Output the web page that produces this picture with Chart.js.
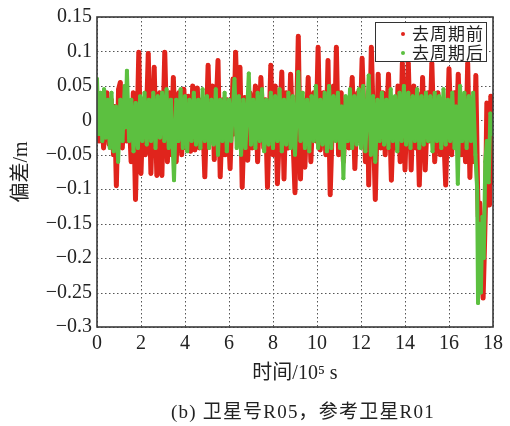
<!DOCTYPE html>
<html>
<head>
<meta charset="utf-8">
<script src="https://cdn.jsdelivr.net/npm/chart.js@4/dist/chart.umd.min.js"></script>
<style>
  html, body { margin: 0; padding: 0; background: #fff; }
  #wrap { position: relative; width: 510px; height: 426px; overflow: hidden; }
  #legend { position: absolute; left: 375px; top: 22px; width: 112px; height: 40px; box-sizing: border-box;
            border: 1.5px solid #333; background: #fff; font-family: 'Noto Sans CJK SC', sans-serif; font-size: 17px; color: #222; }
  .li { position: absolute; left: 0; height: 19px; line-height: 19px; white-space: nowrap; }
  .dot { position: absolute; left: 25px; top: 8px; width: 4px; height: 4px; border-radius: 50%; }
  .lt { position: absolute; left: 36px; top: -1px; letter-spacing: 1px; }
  #caption { position: absolute; left: 171px; top: 396px; font-family: 'Liberation Serif', 'Noto Sans CJK SC', serif;
             font-size: 19px; color: #222; white-space: nowrap; letter-spacing: 1.2px; }
</style>
</head>
<body>
<div id="wrap">
  <canvas id="c" width="510" height="426"></canvas>
  <div id="legend">
    <div class="li" style="top:1px;"><span class="dot" style="background:#e0241c"></span><span class="lt">去周期前</span></div>
    <div class="li" style="top:20px;"><span class="dot" style="background:#5cc040"></span><span class="lt">去周期后</span></div>
  </div>
  <div id="caption">(b) 卫星号R05，参考卫星R01</div>
</div>
<script>
// ---- data (x in 10^5 s, deviation in m) ----
const seriesNames = ['去周期前', '去周期后'];
const xTicks = [0, 2, 4, 6, 8, 10, 12, 14, 16, 18];
const xTickLabels = ['0', '2', '4', '6', '8', '10', '12', '14', '16', '18'];
const yTicks = [-0.3, -0.25, -0.2, -0.15, -0.1, -0.05, 0, 0.05, 0.1, 0.15];
const yTickLabels = ['\u22120.3', '\u22120.25', '\u22120.2', '\u22120.15', '\u22120.1', '\u22120.05', '0', '0.05', '0.1', '0.15'];

const redX = [0.0,0.1,0.2,0.3,0.45,0.55,0.65,0.75,0.8,0.88,0.98,1.06,1.15,1.25,1.35,1.45,1.55,1.65,1.75,1.9,2.0,2.1,2.2,2.33,2.45,2.6,2.72,2.85,2.95,3.08,3.2,3.3,3.38,3.47,3.6,3.72,3.85,3.95,4.05,4.15,4.25,4.35,4.45,4.56,4.66,4.78,4.9,5.05,5.15,5.25,5.33,5.5,5.6,5.72,5.82,5.92,6.05,6.18,6.22,6.3,6.42,6.5,6.6,6.72,6.85,6.95,7.05,7.2,7.3,7.45,7.58,7.65,7.75,7.9,8.0,8.1,8.2,8.4,8.5,8.6,8.7,8.8,9.0,9.15,9.25,9.35,9.45,9.6,9.72,9.85,9.95,10.05,10.15,10.3,10.4,10.5,10.6,10.75,10.8,10.88,10.98,11.1,11.2,11.35,11.45,11.6,11.72,11.85,11.95,12.05,12.2,12.3,12.35,12.47,12.65,12.78,12.9,13.0,13.1,13.25,13.38,13.5,13.58,13.68,13.78,13.88,14.0,14.15,14.28,14.4,14.5,14.55,14.65,14.8,14.92,15.05,15.12,15.22,15.35,15.5,15.6,15.7,15.85,16.0,16.12,16.25,16.32,16.42,16.55,16.65,16.75,16.85,16.95,17.05,17.15,17.22,17.3,17.33,17.4,17.48,17.55,17.6,17.66,17.72,17.78,17.84,17.9,17.96];
const redY = [0.03,-0.03,0.02,-0.04,0.04,-0.035,0.03,-0.05,0.02,-0.095,0.045,0.055,-0.04,0.03,-0.03,0.02,-0.06,0.04,-0.115,0.099,-0.077,0.03,-0.05,0.097,-0.077,0.077,-0.08,0.04,-0.08,0.099,-0.06,0.04,-0.05,0.062,-0.06,0.04,-0.05,0.045,-0.04,0.035,-0.045,0.05,-0.043,0.047,-0.04,0.03,-0.082,0.08,-0.03,0.05,-0.057,0.087,-0.082,0.03,-0.05,0.03,-0.07,0.06,-0.02,0.099,-0.03,0.077,-0.097,0.033,-0.058,0.04,-0.04,0.05,-0.06,0.062,-0.04,0.03,-0.097,0.08,-0.05,0.05,-0.092,0.07,-0.085,0.04,-0.04,0.067,-0.105,0.122,-0.085,0.03,-0.068,0.062,-0.06,0.04,-0.03,0.106,-0.043,0.04,-0.05,0.087,-0.108,0.05,-0.02,0.106,-0.05,0.04,-0.06,0.03,-0.04,0.062,-0.07,0.04,-0.03,0.09,-0.06,0.03,-0.094,0.106,-0.115,0.067,-0.04,0.04,-0.05,0.067,-0.087,0.03,-0.04,0.05,-0.06,0.083,-0.072,0.083,-0.072,0.05,-0.04,0.04,-0.094,0.062,-0.072,0.04,-0.03,0.083,-0.06,0.04,-0.05,0.03,-0.094,0.075,-0.05,0.04,-0.04,0.067,-0.05,0.02,-0.06,0.083,-0.083,0.03,-0.06,0.065,-0.1,-0.14,-0.12,-0.217,-0.258,-0.2,-0.12,0.025,-0.07,-0.123,0.035,-0.09];

const greenX = [0.0,0.08,0.16,0.24,0.32,0.4,0.5,0.58,0.66,0.76,0.86,0.96,1.06,1.16,1.26,1.3,1.36,1.46,1.56,1.66,1.76,1.86,1.96,2.06,2.16,2.26,2.36,2.46,2.56,2.66,2.76,2.86,2.96,3.06,3.16,3.26,3.36,3.5,3.6,3.7,3.8,3.9,4.0,4.1,4.2,4.3,4.4,4.5,4.6,4.7,4.8,4.9,5.0,5.1,5.2,5.3,5.4,5.5,5.6,5.7,5.8,5.9,6.0,6.1,6.25,6.35,6.45,6.55,6.65,6.75,6.9,7.0,7.1,7.2,7.3,7.4,7.5,7.6,7.7,7.8,7.9,8.0,8.1,8.2,8.3,8.4,8.5,8.6,8.7,8.8,8.9,9.0,9.15,9.25,9.35,9.45,9.55,9.65,9.75,9.85,9.95,10.05,10.15,10.25,10.35,10.45,10.55,10.65,10.75,10.85,10.95,11.05,11.12,11.2,11.3,11.4,11.5,11.6,11.7,11.8,11.9,12.0,12.1,12.2,12.35,12.45,12.55,12.65,12.75,12.85,12.95,13.05,13.15,13.25,13.35,13.45,13.55,13.65,13.75,13.85,13.95,14.05,14.15,14.25,14.35,14.45,14.55,14.65,14.75,14.85,14.95,15.05,15.15,15.25,15.35,15.45,15.55,15.65,15.75,15.85,15.95,16.05,16.15,16.25,16.32,16.4,16.5,16.6,16.7,16.8,16.9,17.0,17.1,17.2,17.28,17.32,17.38,17.45,17.52,17.58,17.65,17.72,17.8,17.88,17.95];
const greenY = [0.06,-0.02,0.04,-0.03,0.045,-0.025,0.03,-0.04,0.04,-0.045,0.02,-0.06,0.03,-0.03,0.05,-0.01,0.072,-0.03,0.03,-0.045,0.025,-0.04,0.035,-0.03,0.04,-0.035,0.03,-0.03,0.04,-0.04,0.035,-0.025,0.04,-0.03,0.045,-0.04,0.03,-0.087,0.03,-0.03,0.045,-0.04,0.035,-0.045,0.03,-0.03,0.04,-0.035,0.03,-0.04,0.045,-0.03,0.035,-0.04,0.03,-0.035,0.045,-0.05,0.03,-0.03,0.04,-0.045,0.03,-0.03,0.06,-0.04,0.035,-0.05,0.03,-0.04,0.068,-0.035,0.03,-0.04,0.04,-0.03,0.045,-0.045,0.03,-0.035,0.04,-0.04,0.035,-0.03,0.045,-0.045,0.03,-0.035,0.04,-0.04,0.035,-0.05,0.07,-0.03,0.04,-0.04,0.03,-0.045,0.035,-0.03,0.05,-0.04,0.03,-0.035,0.04,-0.045,0.05,-0.04,0.035,-0.03,0.04,-0.04,0.02,-0.084,0.035,-0.03,0.045,-0.04,0.035,-0.035,0.045,-0.04,0.05,-0.045,0.065,-0.05,0.035,-0.06,0.03,-0.03,0.04,-0.035,0.03,-0.04,0.045,-0.03,0.035,-0.045,0.04,-0.03,0.05,-0.035,0.04,-0.04,0.035,-0.03,0.045,-0.04,0.035,-0.035,0.04,-0.03,0.035,-0.045,0.04,-0.03,0.035,-0.04,0.045,-0.035,0.03,-0.03,0.04,-0.04,0.02,-0.092,0.05,-0.03,0.04,-0.04,0.035,-0.03,0.04,-0.05,-0.1,-0.265,-0.15,-0.25,-0.14,-0.2,-0.06,-0.03,-0.09,0.01,-0.02];

const RED = '#e0241c';
const GREEN = '#5cc040';
const tickFont = { family: "'Liberation Serif', serif", size: 20 };
const titleFont = { family: "'Liberation Serif', 'Noto Sans CJK SC', serif", size: 20 };

// dotted grid at the scales' tick positions + solid frame
const gridFrame = {
  id: 'gridFrame',
  beforeDatasetsDraw(chart) {
    const a = chart.chartArea, ctx = chart.ctx;
    const xs = chart.scales.x, ys = chart.scales.y;
    ctx.save();
    ctx.strokeStyle = '#555';
    ctx.lineWidth = 1;
    ctx.setLineDash([1.5, 2.5]);
    xs.ticks.forEach(t => {
      const px = Math.round(xs.getPixelForValue(t.value)) + 0.5;
      ctx.beginPath(); ctx.moveTo(px, a.top); ctx.lineTo(px, a.bottom); ctx.stroke();
    });
    ys.ticks.forEach(t => {
      const py = Math.round(ys.getPixelForValue(t.value)) + 0.5;
      ctx.beginPath(); ctx.moveTo(a.left, py); ctx.lineTo(a.right, py); ctx.stroke();
    });
    ctx.restore();
  },
  afterDraw(chart) {
    const a = chart.chartArea, ctx = chart.ctx;
    ctx.save();
    ctx.strokeStyle = '#3a3a3a';
    ctx.lineWidth = 1.6;
    ctx.strokeRect(a.left, a.top, a.right - a.left, a.bottom - a.top);
    ctx.restore();
  }
};

const lineStyle = { showLine: true, borderWidth: 5, pointRadius: 2, pointBorderWidth: 0,
                    borderJoinStyle: 'round', borderCapStyle: 'round', tension: 0 };

new Chart(document.getElementById('c'), {
  type: 'scatter',
  data: {
    datasets: [
      Object.assign({ label: seriesNames[0], data: redX.map((x, i) => ({ x, y: redY[i] })),
        borderColor: RED, backgroundColor: RED, order: 1 }, lineStyle),
      Object.assign({ label: seriesNames[1], data: greenX.map((x, i) => ({ x, y: greenY[i] })),
        borderColor: GREEN, backgroundColor: GREEN, order: 0 }, lineStyle, { borderWidth: 4 })
    ]
  },
  options: {
    responsive: false,
    animation: false,
    devicePixelRatio: 1,
    layout: { padding: { left: 0, top: 16, right: 17, bottom: 0 } },
    plugins: { legend: { display: false }, tooltip: { enabled: false } },
    scales: {
      x: {
        type: 'linear', min: 0, max: 18,
        afterBuildTicks: s => { s.ticks = xTicks.map(v => ({ value: v })); },
        afterFit: s => { s.height = 99; },
        ticks: { font: tickFont, color: '#222', padding: 5, maxRotation: 0,
                 callback: (v, i) => xTickLabels[i] },
        grid: { display: false, drawTicks: false },
        border: { display: false },
        title: { display: true, text: '时间/10\u2075 s', color: '#222', font: titleFont,
                 padding: { top: 0, bottom: 40 } }
      },
      y: {
        type: 'linear', min: -0.3, max: 0.15,
        afterBuildTicks: s => { s.ticks = yTicks.map(v => ({ value: v })); },
        afterFit: s => { s.width = 97; },
        ticks: { font: tickFont, color: '#222', padding: 5,
                 callback: (v, i) => yTickLabels[i] },
        grid: { display: false, drawTicks: false },
        border: { display: false },
        title: { display: true, text: '偏差/m', color: '#222', font: titleFont,
                 padding: { top: 10, bottom: 0 } }
      }
    }
  },
  plugins: [gridFrame]
});
</script>
</body>
</html>
